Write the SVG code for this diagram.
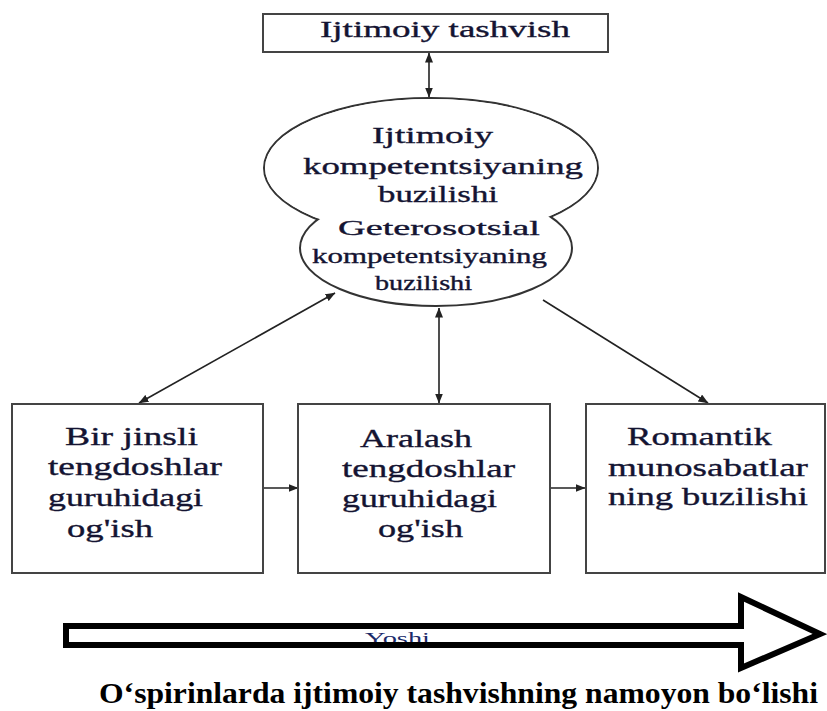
<svg xmlns="http://www.w3.org/2000/svg" width="827" height="711" viewBox="0 0 827 711">
<style>
.box{fill:#fff;stroke:#444;stroke-width:2}
.t{fill:#141432;stroke:#141432;stroke-width:0.35}
.c{stroke:#222;stroke-width:1.6;fill:none}
.cap{font-weight:bold;fill:#000;font-size:30px}
</style>
<defs>
<marker id="ah" viewBox="0 0 10 8" refX="9.5" refY="4" markerWidth="10" markerHeight="8" markerUnits="userSpaceOnUse" orient="auto-start-reverse">
<path d="M0,0 L10,4 L0,8 z" fill="#222"/>
</marker>
</defs>
<rect width="827" height="711" fill="#fff"/>

<g id="connectors">
<line class="c" x1="429" y1="53" x2="429" y2="97" marker-start="url(#ah)" marker-end="url(#ah)"/>
<line class="c" x1="335" y1="293" x2="139" y2="403" marker-start="url(#ah)" marker-end="url(#ah)"/>
<line class="c" x1="439" y1="308" x2="439" y2="403" marker-start="url(#ah)" marker-end="url(#ah)"/>
<line class="c" x1="543" y1="300" x2="708" y2="403" marker-end="url(#ah)"/>
<line class="c" x1="263" y1="488" x2="298" y2="488" marker-end="url(#ah)"/>
<line class="c" x1="550" y1="488" x2="585" y2="488" marker-end="url(#ah)"/>
</g>

<g font-family="'Liberation Serif', 'Times New Roman', serif">
<g id="top">
<rect class="box" x="263" y="14" width="345" height="38"/>
<text class="t" x="320" y="37" font-size="24" textLength="250" lengthAdjust="spacingAndGlyphs">Ijtimoiy tashvish</text>
</g>

<g id="competence">
<ellipse cx="431" cy="168" rx="167" ry="70" fill="#fff" stroke="#333" stroke-width="2"/>
<ellipse cx="436" cy="248" rx="136" ry="58" fill="#fff" stroke="#333" stroke-width="2"/>
<ellipse cx="431" cy="168" rx="166" ry="69" fill="#fff"/>
<text class="t" x="372" y="143" font-size="24" textLength="121" lengthAdjust="spacingAndGlyphs">Ijtimoiy</text>
<text class="t" x="303" y="174" font-size="24" textLength="280" lengthAdjust="spacingAndGlyphs">kompetentsiyaning</text>
<text class="t" x="378" y="202" font-size="24" textLength="120" lengthAdjust="spacingAndGlyphs">buzilishi</text>
<text class="t" x="338" y="235" font-size="22" textLength="202" lengthAdjust="spacingAndGlyphs">Geterosotsial</text>
<text class="t" x="312" y="263" font-size="21" textLength="235" lengthAdjust="spacingAndGlyphs">kompetentsiyaning</text>
<text class="t" x="375" y="290" font-size="20" textLength="97" lengthAdjust="spacingAndGlyphs">buzilishi</text>
</g>

<g id="box1">
<rect class="box" x="12" y="404" width="251" height="169"/>
<text class="t" x="65" y="445" font-size="26" textLength="133" lengthAdjust="spacingAndGlyphs">Bir jinsli</text>
<text class="t" x="48" y="475" font-size="26" textLength="174" lengthAdjust="spacingAndGlyphs">tengdoshlar</text>
<text class="t" x="48" y="506" font-size="26" textLength="155" lengthAdjust="spacingAndGlyphs">guruhidagi</text>
<text class="t" x="67" y="537" font-size="26" textLength="86" lengthAdjust="spacingAndGlyphs">og'ish</text>
</g>

<g id="box2">
<rect class="box" x="298" y="404" width="252" height="169"/>
<text class="t" x="360" y="447" font-size="26" textLength="112" lengthAdjust="spacingAndGlyphs">Aralash</text>
<text class="t" x="342" y="477" font-size="26" textLength="173" lengthAdjust="spacingAndGlyphs">tengdoshlar</text>
<text class="t" x="342" y="507" font-size="26" textLength="155" lengthAdjust="spacingAndGlyphs">guruhidagi</text>
<text class="t" x="378" y="537" font-size="26" textLength="85" lengthAdjust="spacingAndGlyphs">og'ish</text>
</g>

<g id="box3">
<rect class="box" x="586" y="404" width="239" height="169"/>
<text class="t" x="627" y="445" font-size="26" textLength="145" lengthAdjust="spacingAndGlyphs">Romantik</text>
<text class="t" x="608" y="476" font-size="26" textLength="200" lengthAdjust="spacingAndGlyphs">munosabatlar</text>
<text class="t" x="608" y="505" font-size="26" textLength="200" lengthAdjust="spacingAndGlyphs">ning buzilishi</text>
</g>

<g id="age-arrow">
<text x="365" y="644" font-size="17" textLength="65" lengthAdjust="spacingAndGlyphs" fill="#1a2a6a">Yoshi</text>
<path d="M66,626 L741,626 L741,597 L820,634 L741,668 L741,645 L66,645 Z" fill="none" stroke="#000" stroke-width="6" stroke-linejoin="miter"/>
</g>

<g id="caption">
<text class="cap" x="99" y="703" textLength="719" lengthAdjust="spacingAndGlyphs">O‘spirinlarda ijtimoiy tashvishning namoyon bo‘lishi</text>
</g>
</g>
</svg>
